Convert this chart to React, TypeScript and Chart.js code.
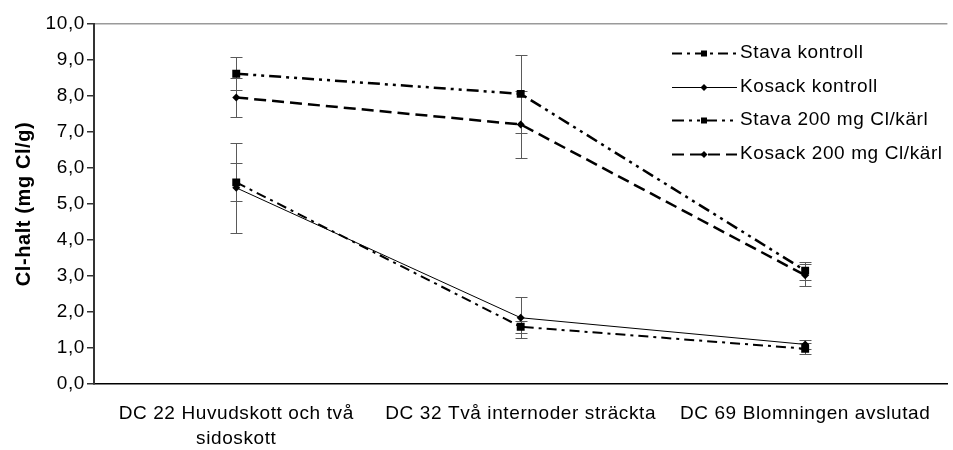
import React, { useEffect, useRef } from 'react';
import { Chart, registerables } from 'chart.js';

Chart.register(...registerables);

// ---- data ----
const categories: (string | string[])[] = [
  ['DC 22 Huvudskott och två', 'sidoskott'],
  'DC 32 Två internoder sträckta',
  'DC 69 Blomningen avslutad',
];
const seriesNames = ['Stava kontroll', 'Kosack kontroll', 'Stava 200 mg Cl/kärl', 'Kosack 200 mg Cl/kärl'];
const stavaKontroll = [5.6, 1.59, 0.98];
const stavaKontrollErr = [0.53, 0.16, 0.15];
const kosackKontroll = [5.45, 1.84, 1.1];
const kosackKontrollErr = [1.25, 0.57, 0.12];
const stava200 = [8.62, 8.06, 3.15];
const stava200Err = [0.45, 1.08, 0.25];
const kosack200 = [7.96, 7.21, 3.02];
const kosack200Err = [0.55, 0.93, 0.3];
const yMin = 0;
const yMax = 10;
const yStep = 1;
const yTitle = 'Cl-halt (mg Cl/g)';

const FONT = "'Liberation Sans', Arial, sans-serif";
const SPACING = '0.6px';

const errorBarPlugin = {
  id: 'errorBars',
  beforeDatasetsDraw(chart: any) {
    const { ctx } = chart;
    const ys = chart.scales.y;
    chart.data.datasets.forEach((ds: any, i: number) => {
      const meta = chart.getDatasetMeta(i);
      meta.data.forEach((pt: any, j: number) => {
        const v = ds.data[j];
        const e = ds.errors[j];
        const x = Math.round(pt.x) + 0.5;
        const yt = Math.round(ys.getPixelForValue(v + e)) + 0.5;
        const yb = Math.round(ys.getPixelForValue(v - e)) + 0.5;
        ctx.save();
        ctx.setLineDash([]);
        ctx.strokeStyle = '#5a5a5a';
        ctx.lineWidth = 1;
        ctx.beginPath();
        ctx.moveTo(x, yt);
        ctx.lineTo(x, yb);
        ctx.moveTo(x - 6, yt);
        ctx.lineTo(x + 6, yt);
        ctx.moveTo(x - 6, yb);
        ctx.lineTo(x + 6, yb);
        ctx.stroke();
        ctx.restore();
      });
    });
  },
};

const letterSpacingPlugin = {
  id: 'letterSpacing',
  beforeDraw(chart: any) {
    (chart.ctx as any).letterSpacing = SPACING;
  },
};

function drawMarker(ctx: CanvasRenderingContext2D, style: string, x: number, y: number, r: number) {
  ctx.beginPath();
  if (style === 'rect') {
    ctx.rect(x - r, y - r, 2 * r, 2 * r);
  } else {
    ctx.moveTo(x, y - r);
    ctx.lineTo(x + r, y);
    ctx.lineTo(x, y + r);
    ctx.lineTo(x - r, y);
    ctx.closePath();
  }
  ctx.fill();
}

const legendPlugin = {
  id: 'customLegend',
  afterDraw(chart: any) {
    const { ctx } = chart;
    ctx.save();
    chart.data.datasets.forEach((ds: any, i: number) => {
      const y = 53 + i * 33.5;
      const x0 = 672;
      const x1 = 737;
      ctx.strokeStyle = '#000';
      ctx.lineWidth = Math.min(ds.borderWidth, 2);
      ctx.setLineDash(ds.borderDash || []);
      ctx.beginPath();
      ctx.moveTo(x0, Math.round(y) + 0.5);
      ctx.lineTo(x1, Math.round(y) + 0.5);
      ctx.stroke();
      ctx.setLineDash([]);
      ctx.fillStyle = '#000';
      drawMarker(ctx, ds.pointStyle, 704, Math.round(y) + 0.5, ds.pointStyle === 'rect' ? 3 : 3.5);
      ctx.font = `19px ${FONT}`;
      ctx.textAlign = 'left';
      ctx.textBaseline = 'middle';
      (ctx as any).letterSpacing = SPACING;
      ctx.fillText(ds.label, 740, y);
    });
    ctx.restore();
  },
};

export default function App() {
  const ref = useRef<HTMLCanvasElement | null>(null);
  useEffect(() => {
    document.body.style.margin = '0';
    const c = ref.current!;
    const mk = (label: string, data: number[], errors: number[], dash: number[], width: number, style: string, radius: number) => ({
      label,
      data,
      errors,
      borderColor: '#000',
      backgroundColor: '#000',
      borderWidth: width,
      borderDash: dash,
      pointStyle: style,
      pointRadius: radius,
      pointBorderWidth: 0,
      pointBackgroundColor: '#000',
      tension: 0,
      fill: false,
    });
    const chart = new Chart(c, {
      type: 'line',
      data: {
        labels: categories as any,
        datasets: [
          mk(seriesNames[0], stavaKontroll, stavaKontrollErr, [10, 5, 3, 5], 2, 'rect', 5.6),
          mk(seriesNames[1], kosackKontroll, kosackKontrollErr, [], 1, 'rectRot', 4),
          mk(seriesNames[2], stava200, stava200Err, [12, 5, 3, 5, 3, 5], 2.5, 'rect', 5.6),
          mk(seriesNames[3], kosack200, kosack200Err, [12, 6], 2.5, 'rectRot', 4),
        ] as any,
      },
      options: {
        animation: false,
        responsive: false,
        devicePixelRatio: 1,
        layout: { padding: { top: 24, left: 0, right: 0, bottom: 0 } },
        plugins: {
          legend: { display: false },
          tooltip: { enabled: false },
        },
        scales: {
          x: {
            type: 'category',
            offset: true,
            grid: { display: true, drawOnChartArea: false, drawTicks: false },
            border: { display: true, color: '#000', width: 1.5 },
            ticks: {
              color: '#000',
              font: { family: FONT, size: 19, lineHeight: 1.32 },
              padding: 17,
              maxRotation: 0,
              autoSkip: false,
            },
            afterFit(scale: any) {
              scale.height = 66;
            },
          },
          y: {
            min: yMin,
            max: yMax,
            grid: {
              color: (ctx: any) => (ctx.tick && ctx.tick.value === yMax ? '#9a9a9a' : 'rgba(0,0,0,0)'),
              tickColor: '#333',
              tickLength: 7,
              lineWidth: 1.5,
            },
            border: { display: true, color: '#333', width: 2 },
            ticks: {
              stepSize: yStep,
              color: '#000',
              padding: 2,
              font: { family: FONT, size: 19 },
              callback: (v: any) => Number(v).toFixed(1).replace('.', ','),
            },
            title: {
              display: true,
              text: yTitle,
              color: '#000',
              font: { family: FONT, size: 20, weight: 'bold' },
              padding: { top: 12, bottom: 0 },
            },
            afterFit(scale: any) {
              scale.width = 94;
            },
          },
        },
      } as any,
      plugins: [letterSpacingPlugin, errorBarPlugin, legendPlugin],
    });
    return () => chart.destroy();
  }, []);
  return (
    <div style={{ width: 953, height: 450, background: '#fff' }}>
      <canvas ref={ref} width={953} height={450} style={{ display: 'block' }} />
    </div>
  );
}
